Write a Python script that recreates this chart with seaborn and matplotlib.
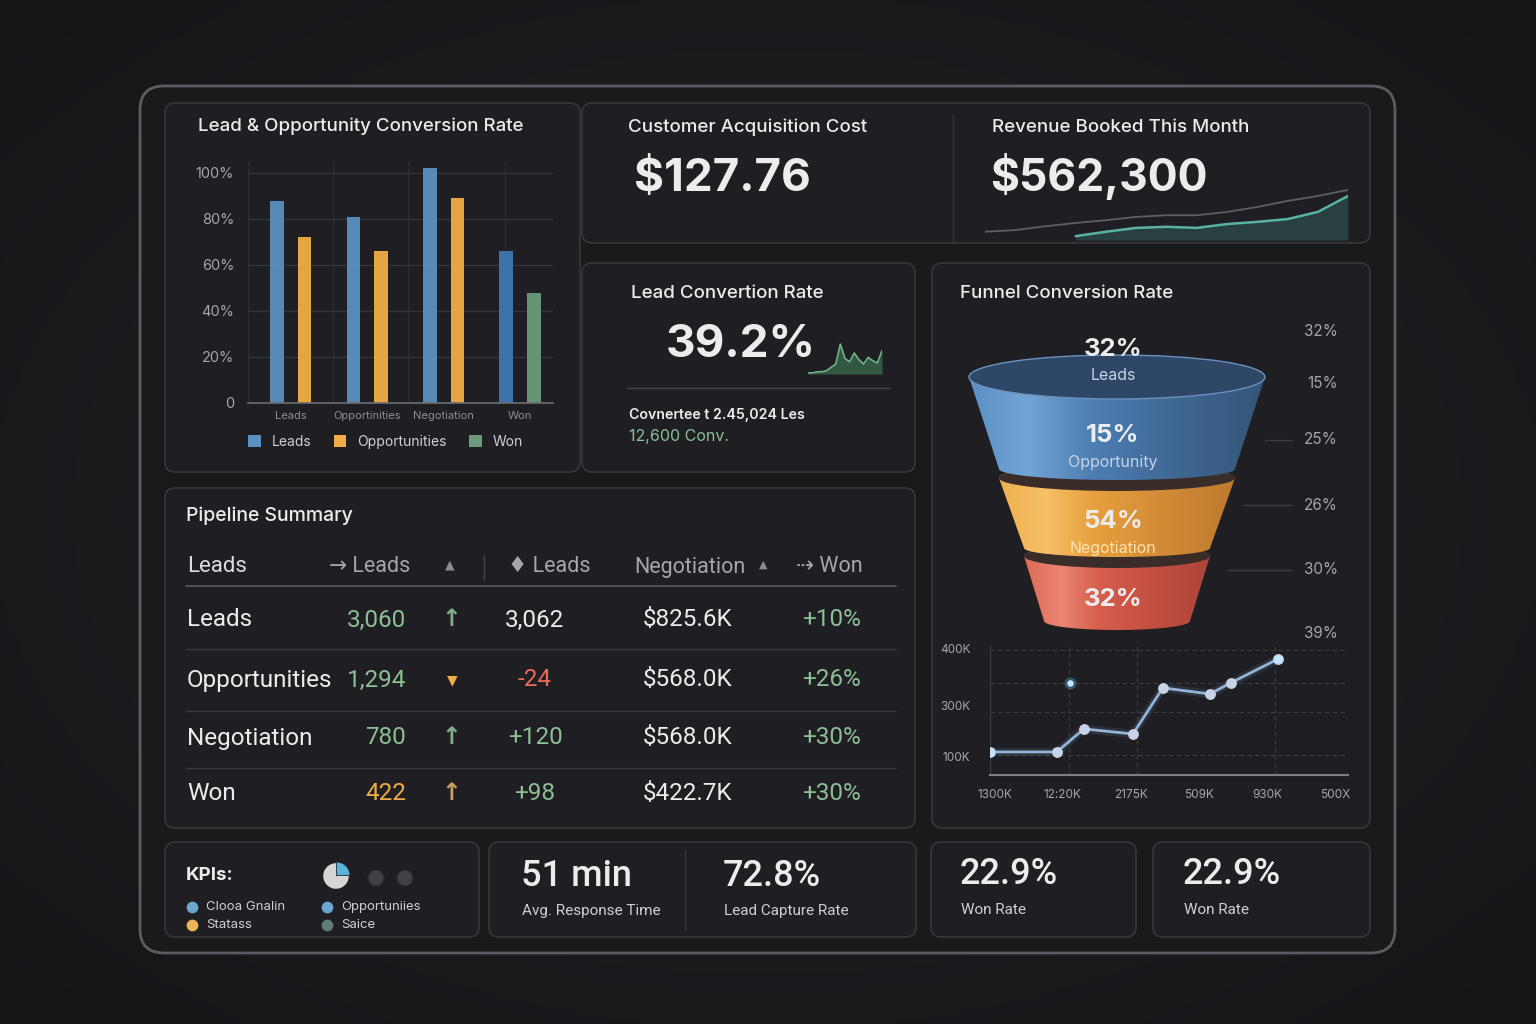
import numpy as np
import pandas as pd
import matplotlib
matplotlib.use("Agg")
import matplotlib.pyplot as plt
import seaborn as sns
from matplotlib.patches import FancyBboxPatch, Ellipse, Polygon, Patch, Circle
from matplotlib.colors import LinearSegmentedColormap

W, H = 1536, 1024

# ---- data ----
bar_categories = ["Leads", "Opportinities", "Negotiation", "Won"]
bar_leads = [88, 81, 102, 66]
bar_second = [72, 66, 89, 48]
bar_second_series = ["Opportunities", "Opportunities", "Opportunities", "Won"]
bar_yticks = [0, 20, 40, 60, 80, 100]
bar_yticklabels = ["0", "20%", "40%", "60%", "80%", "100%"]

cac_value = "$127.76"
revenue_value = "$562,300"
rev_x = list(range(13))
rev_trend = [15, 18, 25, 31, 36, 42, 45, 45, 51, 60, 71, 80, 91]
rev_booked = [np.nan, np.nan, np.nan, 7, 15, 22, 24, 22, 29, 33, 38, 51, 80]

lead_rate = "39.2%"
lead_spark = [1, 1, 2, 2, 3, 6, 9, 27, 14, 11, 19, 13, 9, 15, 12, 10, 21]

funnel_pct = ["32%", "15%", "54%", "32%"]
funnel_names = ["Leads", "Opportunity", "Negotiation", ""]
funnel_side = ["32%", "15%", "25%", "26%", "30%", "39%"]

trend_x = [-0.07, 0.91, 1.31, 2.03, 2.47, 3.16, 3.47, 4.16]
trend_y = [114, 114, 178, 164, 292, 275, 306, 372]
trend_outlier = (1.10, 306)
trend_xticklabels = ["1300K", "12:20K", "2175K", "509K", "930K", "500X"]
trend_yticks = [100, 242, 400]
trend_yticklabels = ["100K", "300K", "400K"]

pipe_header = ["Leads", "→ Leads", "▲", "♦ Leads", "Negotiation", "▲", "⇢ Won"]
pipe_stages = ["Leads", "Opportunities", "Negotiation", "Won"]
pipe_counts = ["3,060", "1,294", "780", "422"]
pipe_trend = ["up", "down", "up", "up"]
pipe_delta = ["3,062", "-24", "+120", "+98"]
pipe_value = ["$825.6K", "$568.0K", "$568.0K", "$422.7K"]
pipe_change = ["+10%", "+26%", "+30%", "+30%"]

kpi_pie = [25, 75]
kpi_legend = ["Clooa Gnalin", "Statass", "Opportuniies", "Saice"]

cards = [("51 min", "Avg. Response Time"), ("72.8%", "Lead Capture Rate"),
         ("22.9%", "Won Rate"), ("22.9%", "Won Rate")]

# ---- style ----
sns.set_theme(style="dark")
plt.rcParams["font.family"] = ["Inter", "DejaVu Sans"]
WHITE = "#ececee"
GRAY = "#a4a6ab"
GREEN = "#8dbf95"
ORANGE = "#f0ad45"
RED = "#ec6a55"
BLUE = "#5b90c0"
PANEL = "#1f1f23"
EDGE = "#36373c"
COND = ["Roboto", "DejaVu Sans"]
TITLE = 13.5

fig = plt.figure(figsize=(W / 100, H / 100), dpi=100)
fig.patch.set_facecolor("#1b1b1f")
bg = fig.add_axes([0, 0, 1, 1])
bg.axis("off")


def px_axes(x0, y0, x1, y1):
    ax = fig.add_axes([x0 / W, 1 - y1 / H, (x1 - x0) / W, (y1 - y0) / H])
    ax.set_facecolor("none")
    return ax


def panel(x0, y0, x1, y1, r=10, fc=PANEL, ec=EDGE, lw=1.2, z=1):
    bg.add_patch(FancyBboxPatch((x0, y0), x1 - x0, y1 - y0,
                                boxstyle=f"round,pad=0,rounding_size={r}",
                                fc=fc, ec=ec, lw=lw, zorder=z))


def txt(x, y, s, size, color=WHITE, weight="normal", ha="left", family=None, z=5):
    kw = {}
    if family:
        kw["family"] = family
    bg.text(x, y, s, fontsize=size, color=color, fontweight=weight, ha=ha,
            va="center", zorder=z, **kw)


# background vignette
yy, xx = np.mgrid[0:1:200j, 0:1:300j]
vig = 1 - np.clip(np.sqrt((xx - 0.5) ** 2 + (yy - 0.5) ** 2) * 1.4, 0, 1)
bg.imshow(vig, extent=[0, W, H, 0], aspect="auto", zorder=0,
          cmap=LinearSegmentedColormap.from_list("v", ["#151518", "#232327"]))

panel(140, 86, 1395, 953, r=24, fc="#1a1a1d", ec="#5c5d62", lw=2)
panel(165, 103, 580, 472)
panel(582, 103, 1370, 243)
bg.plot([953, 953], [115, 243], color=EDGE, lw=1, zorder=2)
panel(582, 263, 915, 472)
panel(932, 263, 1370, 828)
panel(165, 488, 915, 828)
panel(165, 842, 479, 937)
panel(489, 842, 916, 937)
bg.plot([685, 685], [850, 930], color=EDGE, lw=1, zorder=2)
panel(931, 842, 1136, 937)
panel(1153, 842, 1370, 937)

# ---- bar chart ----
txt(198, 126, "Lead & Opportunity Conversion Rate", TITLE, weight="medium")
bar_df = pd.DataFrame({
    "stage": bar_categories * 2,
    "value": bar_leads + bar_second,
    "slot": ["first"] * 4 + ["second"] * 4,
})
axb = px_axes(248, 161.5, 553, 403)
sns.barplot(data=bar_df, x="stage", y="value", hue="slot", ax=axb,
            palette={"first": BLUE, "second": ORANGE}, width=0.72, gap=0.5,
            legend=False, saturation=1)
color_map = {"Leads": BLUE, "Opportunities": ORANGE, "Won": "#6c9a7a"}
bars = axb.patches
for i, p in enumerate(bars[:4]):
    p.set_facecolor("#3f78b0" if i == 3 else BLUE)
for i, p in enumerate(bars[4:8]):
    p.set_facecolor(color_map[bar_second_series[i]])
for p in bars:
    p.set_edgecolor("none")
    p.set_alpha(0.95)
axb.set_xlim(-0.56, 3.43)
axb.set_ylim(0, 105)
axb.set_yticks(bar_yticks)
axb.set_yticklabels(bar_yticklabels)
axb.set_xlabel("")
axb.set_ylabel("")
axb.tick_params(axis="y", colors=GRAY, labelsize=10.5, pad=10, length=0)
axb.tick_params(axis="x", colors="#8c8e93", labelsize=8, pad=6, length=0)
axb.grid(axis="y", color="#333439", lw=1)
for xv in [-0.56, 0.55, 1.53, 2.8]:
    axb.axvline(xv, color="#2c2d32", lw=1, zorder=0)
for s in ["top", "right", "left"]:
    axb.spines[s].set_visible(False)
axb.spines["bottom"].set_color("#6a6b70")
handles = [Patch(fc=c, ec="none", label=k) for k, c in color_map.items()]
axb.legend(handles=handles, loc="center left", bbox_to_anchor=(-0.04, -0.16),
           ncol=3, frameon=False, fontsize=10, labelcolor="#cfd0d4",
           handlelength=0.9, handleheight=0.9, columnspacing=1.6, handletextpad=0.8)

# ---- CAC / revenue ----
txt(628, 127, "Customer Acquisition Cost", TITLE, weight="medium")
txt(634, 179, cac_value, 33, weight="bold")
txt(992, 127, "Revenue Booked This Month", TITLE, weight="medium")
txt(990, 176, revenue_value, 32, weight="bold")
axr = px_axes(985, 185, 1348, 240)
sns.lineplot(x=rev_x, y=rev_trend, ax=axr, color="#5d5f66", lw=1.3)
rb = np.array(rev_booked, dtype=float)
axr.fill_between(rev_x, 0, rb, color="#3f8f83", alpha=0.3, lw=0)
sns.lineplot(x=rev_x, y=rev_booked, ax=axr, color="#58b3a2", lw=1.8)
axr.set_xlim(0, 12)
axr.set_ylim(0, 100)
axr.axis("off")

# ---- lead conversion ----
txt(631, 293, "Lead Convertion Rate", TITLE, weight="medium")
txt(666, 345, lead_rate, 33, weight="bold")
axs = px_axes(808, 343, 882, 374)
sx = np.arange(len(lead_spark))
axs.fill_between(sx, 0, lead_spark, color="#4f9c6c", alpha=0.45, lw=0)
sns.lineplot(x=sx, y=lead_spark, ax=axs, color="#6cb584", lw=1.2)
axs.set_xlim(0, len(lead_spark) - 1)
axs.set_ylim(0, 28)
axs.axis("off")
bg.plot([627, 890], [388, 388], color="#45464b", lw=1, zorder=3)
txt(629, 415, "Covnertee t 2.45,024 Les", 10.2, weight="semibold")
txt(629, 436, "12,600 Conv.", 11.5, color=GREEN)

# ---- funnel ----
txt(960, 293, "Funnel Conversion Rate", TITLE, weight="medium")
cx = 1117
segs = [  # (cy_top, rx_top, ry_top, cy_bot, rx_bot, ry_bot)
    (377, 148, 22, 469, 118, 11),
    (478, 118, 13, 548, 93, 9),
    (556, 93, 12, 621, 73, 9),
]
seg_cmaps = [
    ["#5d8fc2", "#72a5d6", "#4f80b4", "#446f9f", "#3b6089", "#355679"],
    ["#efb14e", "#f6c067", "#e6a03e", "#d99238", "#cb8433", "#bd7a30"],
    ["#dd6a58", "#ea8572", "#d65f4d", "#c95444", "#bb4b3e", "#ad4539"],
]
for i in [2, 1, 0]:
    cyt, rxt, ryt, cyb, rxb, ryb = segs[i]
    th = np.linspace(np.pi, 0, 80)
    top = np.c_[cx + rxt * np.cos(th), cyt - ryt * np.sin(th)]
    th2 = np.linspace(0, np.pi, 80)
    bot = np.c_[cx + rxb * np.cos(th2), cyb + ryb * np.sin(th2)]
    poly = Polygon(np.vstack([top, bot]), closed=True, fc="none", ec="none", zorder=3)
    bg.add_patch(poly)
    grad = np.linspace(0, 1, 256)[None, :]
    im = bg.imshow(grad, extent=[cx - rxt, cx + rxt, cyb + ryb, cyt - ryt],
                   aspect="auto", zorder=3 + (2 - i),
                   cmap=LinearSegmentedColormap.from_list(f"f{i}", seg_cmaps[i]))
    im.set_clip_path(poly)
    if i == 0:
        bg.add_patch(Ellipse((cx, cyt), 2 * rxt, 2 * ryt, fc="#2f4766", ec="#6a92bd",
                             lw=1, zorder=3 + (2 - i) + 0.5))
    else:
        bg.add_patch(Ellipse((cx, cyt), 2 * rxt, 2 * ryt, fc="#3a2d29", ec="none",
                             zorder=3 + (2 - i) + 0.5))
label_y = [(350, 375), (435, 463), (522, 548), (599, None)]
name_colors = ["#c5d3e6", "#c5d3e6", "#fbe3b0", WHITE]
for i in range(4):
    yp, yn = label_y[i]
    txt(1113, yp, funnel_pct[i], 18.5, weight="bold", ha="center", z=8)
    if yn and funnel_names[i]:
        txt(1113, yn, funnel_names[i], 11.5, color=name_colors[i], ha="center", z=8)
side_y = [331, 384, 440, 505, 570, 634]
for s, yv in zip(funnel_side, side_y):
    txt(1338, yv, s, 11, color=GRAY, ha="right")
for x0, yv in [(1265, 440), (1243, 505), (1227, 570)]:
    bg.plot([x0, 1292], [yv, yv], color="#3d3e43", lw=1, zorder=2)

# ---- trend line ----
axl = px_axes(990, 645, 1348, 775)
for yv in [397, 306, 225, 106]:
    axl.axhline(yv, color="#3d3e44", lw=0.8, ls=(0, (4, 3)), zorder=0)
for xv in [1.09, 2.09, 4.12]:
    axl.axvline(xv, color="#3d3e44", lw=0.8, ls=(0, (4, 3)), zorder=0)
axl.axvline(-0.07, color="#3a3b40", lw=1, zorder=0)
sns.lineplot(x=trend_x, y=trend_y, ax=axl, color="#8fb3dd", lw=6, alpha=0.12)
sns.lineplot(x=trend_x, y=trend_y, ax=axl, color="#93b3d8", lw=2, marker="o",
             markersize=7, markerfacecolor="#c9d3e6", markeredgecolor="#c9d3e6")
axl.scatter([trend_x[0], trend_x[-1]], [trend_y[0], trend_y[-1]], marker="s", s=22,
            color="#bfe6ff", zorder=5)
axl.scatter([trend_outlier[0]], [trend_outlier[1]], s=60, color="#5fc0ff", alpha=0.25, zorder=4)
axl.scatter([trend_outlier[0]], [trend_outlier[1]], s=14, color="#bfe8ff", zorder=5)
axl.set_xlim(-0.07, 5.19)
axl.set_ylim(50, 411)
axl.set_xticks(range(6))
axl.set_xticklabels(trend_xticklabels)
axl.set_yticks(trend_yticks)
axl.set_yticklabels(trend_yticklabels)
axl.tick_params(axis="x", colors=GRAY, labelsize=8.5, pad=10, length=0)
axl.tick_params(axis="y", colors=GRAY, labelsize=8.5, pad=14, length=0)
axl.grid(False)
for s in ["top", "right", "left"]:
    axl.spines[s].set_visible(False)
axl.spines["bottom"].set_color("#7d7f84")
axl.spines["bottom"].set_linewidth(1.5)

# ---- pipeline table ----
txt(186, 516, "Pipeline Summary", TITLE + 0.5, weight="medium")
txt(187, 567, pipe_header[0], 16, family=COND, color="#dcdde0")
txt(410, 567, pipe_header[1], 15.5, family=COND, color=GRAY, ha="right")
txt(450, 565, pipe_header[2], 9, family=["DejaVu Sans"], color="#8a8c91", ha="center")
bg.plot([484, 484], [555, 580], color="#44454a", lw=1, zorder=3)
txt(508, 567, pipe_header[3], 15.5, family=COND, color=GRAY)
txt(634, 567, pipe_header[4], 15.5, family=COND, color=GRAY)
txt(763, 565, pipe_header[5], 8, family=["DejaVu Sans"], color="#8a8c91", ha="center")
txt(796, 567, pipe_header[6], 15.5, family=COND, color=GRAY)
bg.plot([186, 896], [586, 586], color="#55575c", lw=1.3, zorder=3)
for yv in [649, 711, 768]:
    bg.plot([186, 896], [yv, yv], color="#3a3b40", lw=1, zorder=3)
row_y = [620, 680, 738, 794]
count_colors = [GREEN, GREEN, GREEN, ORANGE]
delta_colors = [WHITE, RED, GREEN, GREEN]
arrow_colors = {"up": "#7fae87", "down": ORANGE}
for i, yv in enumerate(row_y):
    txt(187, yv, pipe_stages[i], 17.5, family=COND)
    txt(406, yv, pipe_counts[i], 17.5, family=COND, color=count_colors[i], ha="right")
    ac = "#c9a15e" if i == 3 else arrow_colors[pipe_trend[i]]
    if pipe_trend[i] == "up":
        txt(451, yv - 1, "↑", 17, color=ac, ha="center", weight="bold", family=["DejaVu Sans"])
    else:
        txt(452, yv, "▼", 10, color=ac, ha="center", family=["DejaVu Sans"])
    txt(535, yv, pipe_delta[i], 17.5, family=COND, color=delta_colors[i], ha="center")
    txt(688, yv, pipe_value[i], 17.5, family=COND, ha="center")
    txt(861, yv, pipe_change[i], 17.5, family=COND, color=GREEN, ha="right")

# ---- KPIs ----
txt(186, 876, "KPIs:", 13.5, weight="bold")
axp = px_axes(320, 860, 352, 892)
axp.pie(kpi_pie, colors=["#5ab2da", "#d6d6d8"], startangle=0, counterclock=True,
        explode=[0.08, 0], wedgeprops={"lw": 0})
axp.set_aspect("equal")
for xc in [376, 405]:
    bg.add_patch(Circle((xc, 878), 8, fc="#414247", ec="#2a2a2e", lw=1, zorder=4))
kpi_dot_colors = ["#6aa6cf", "#efb457", "#6aa6cf", "#5f7d78"]
kpi_pos = [(192, 907), (192, 925), (327, 907), (327, 925)]
for (xd, yd), lab, c in zip(kpi_pos, kpi_legend, kpi_dot_colors):
    bg.scatter([xd], [yd], s=55, color=c, zorder=5)
    txt(xd + 14, yd, lab, 9.5, color="#cfd0d4")

# ---- bottom cards ----
card_pos = [(521, 877, 911), (723, 877, 911), (960, 875, 910), (1183, 875, 910)]
for (xv, y1, y2), (big, small) in zip(card_pos, cards):
    txt(xv, y1, big, 26, family=COND, weight="medium")
    txt(xv + 1, y2, small, 11, family=COND, color="#cfd0d4")

bg.set_xlim(0, W)
bg.set_ylim(H, 0)
fig.savefig("out.png", dpi=100, facecolor=fig.get_facecolor())
